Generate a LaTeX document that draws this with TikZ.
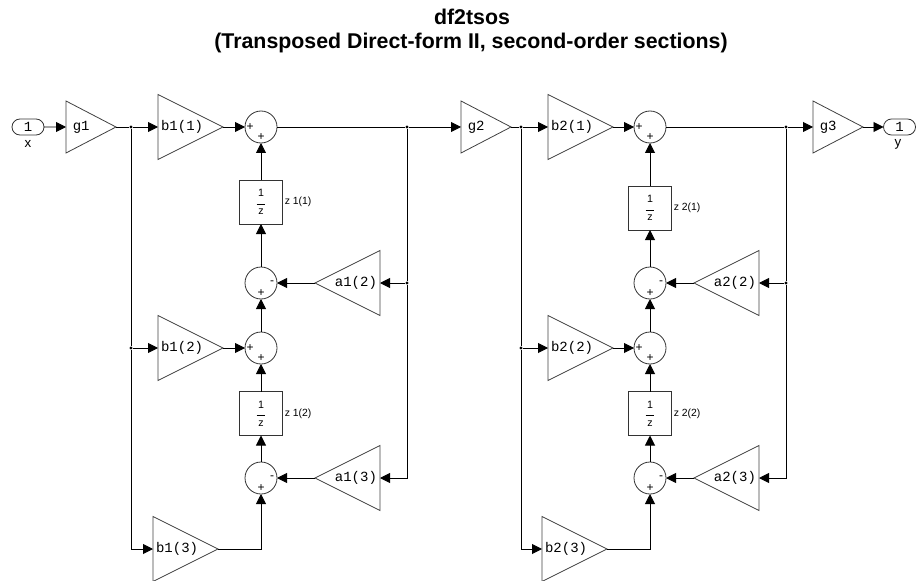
\documentclass[tikz,border=0pt]{standalone}
\usepackage{fontspec}
\setmainfont{Liberation Sans}
\newfontfamily\gainfont{Liberation Mono}
\usetikzlibrary{positioning,arrows.meta,shapes.geometric,shapes.misc}

\begin{document}
\begin{tikzpicture}[x=0.75pt, y=-0.75pt,
  wire/.style={draw=black, line width=0.7pt},
  sig/.style={wire, -{Triangle[length=7.5pt, width=7.5pt]}},
  gain/.style={draw=black!75, line width=0.6pt, isosceles triangle, isosceles triangle stretches,
    inner sep=0, outer sep=0, anchor=lower side, font=\gainfont\fontsize{10.5}{12}\selectfont},
  gsmall/.style={gain, minimum width=39pt, minimum height=37.5pt},
  gbig/.style={gain, minimum width=48.75pt, minimum height=48.75pt},
  back/.style={shape border rotate=180},
  adder/.style={draw=black!80, line width=0.6pt, circle, minimum size=24pt, inner sep=0, outer sep=0},
  sign/.style={font=\fontsize{9}{9}\selectfont, inner sep=0},
  delay/.style={draw=black!80, line width=0.6pt, minimum width=32.25pt, minimum height=33pt, inner sep=0, outer sep=0,
    font=\fontsize{8}{9}\selectfont},
  dlab/.style={font=\fontsize{7.8}{9}\selectfont, inner sep=0, anchor=west},
  port/.style={draw=black!80, line width=0.6pt, rounded rectangle, minimum width=24pt, minimum height=12pt,
    inner sep=0, outer sep=0, font=\gainfont\fontsize{10.5}{12}\selectfont},
  plab/.style={font=\fontsize{10}{11}\selectfont, inner sep=0},
  head/.style={font=\bfseries\fontsize{16}{18}\selectfont},
  dot/.style={circle, fill=black, minimum size=2.6pt, inner sep=0}]
\useasboundingbox (0,0) rectangle (920,581);
\newcommand{\adderblock}[5]{% name, x, y, side offset, side sign
  \node[adder] (#1) at (#2,#3) {};
  \node[sign] (#1p) at ([shift={(0,10.5)}]#1.center) {+};
  \node[sign] (#1s) at ([shift={(#4,0)}]#1.center) {#5};
}
\newcommand{\oneoverz}{$\displaystyle\frac{\hbox to 6.5pt{\hss 1\hss}\rule[-4pt]{0pt}{0pt}}{\rule{0pt}{6pt}\hbox to 6.5pt{\hss z\hss}}$}
\node[head] (title1) at (472,17) {df2tsos};
\node[head] (title2) at (471,43) {(Transposed Direct-form II, second-order sections)};
% ports and the three scale factors
\node[port] (in) at (28,127) {1};
\node[plab] (inlab) at (28,144) {x};
\node[port] (out) at (899.5,127) {1};
\node[plab] (outlab) at (898,144) {y};
\node[gsmall] (g1) at (66,127) {g1};
\node[gsmall] (g2) at (461,127) {g2};
\node[gsmall] (g3) at (813,127) {g3};
\draw[sig] (in) -- (g1.lower side);
\draw[sig] (g3.apex) -- (out);
% one second-order section per line
\foreach \s/\jx/\bx/\bz/\cx/\ax/\ux/\dy/\nxt in {1/131/158/153/261/380/407/202/g2, 2/521/548/542/650/759/786/208/g3} {
  \node[dot] (j\s a) at (\jx,127) {};
  \node[dot] (j\s b) at (\jx,348) {};
  \node[dot] (u\s a) at (\ux,127) {};
  \node[dot] (u\s b) at (\ux,283) {};
  \node[gbig] (b\s a) at (\bx,127) {b\s(1)};
  \node[gbig] (b\s b) at (\bx,348) {b\s(2)};
  \node[gbig] (b\s c) at (\bz,549) {b\s(3)};
  \node[gbig, back] (a\s b) at (\ax,283) {a\s(2)};
  \node[gbig, back] (a\s c) at (\ax,478) {a\s(3)};
  \adderblock{s\s a}{\cx}{127}{-11}{+}
  \adderblock{s\s b}{\cx}{283}{11}{-}
  \adderblock{s\s c}{\cx}{348}{-11}{+}
  \adderblock{s\s d}{\cx}{478}{11}{-}
  \node[delay] (z\s a) at (\cx,\dy) {\oneoverz};
  \node[delay] (z\s b) at (\cx,413.5) {\oneoverz};
  \node[dlab] (z\s alab) at ([xshift=1.5pt]z\s a.east) {z \s(1)};
  \node[dlab] (z\s blab) at ([xshift=1.5pt]z\s b.east) {z \s(2)};
  \draw[wire] (g\s.apex) -- (j\s a);
  \draw[sig] (j\s a) -- (b\s a.lower side);
  \draw[wire] (j\s a) -- (j\s b);
  \draw[sig] (j\s b) -- (b\s b.lower side);
  \draw[sig] (j\s b) |- (b\s c.lower side);
  \draw[sig] (b\s a.apex) -- (s\s a.west);
  \draw[sig] (b\s b.apex) -- (s\s c.west);
  \draw[sig] (b\s c.apex) -| (s\s d.south);
  \draw[sig] (z\s a.north) -- (s\s a.south);
  \draw[sig] (s\s b.north) -- (z\s a.south);
  \draw[sig] (s\s c.north) -- (s\s b.south);
  \draw[sig] (z\s b.north) -- (s\s c.south);
  \draw[sig] (s\s d.north) -- (z\s b.south);
  \draw[sig] (a\s b.apex) -- (s\s b.east);
  \draw[sig] (a\s c.apex) -- (s\s d.east);
  \draw[wire] (s\s a.east) -- (u\s a);
  \draw[sig] (u\s a) -- (\nxt.lower side);
  \draw[wire] (u\s a) -- (u\s b);
  \draw[sig] (u\s b) -- (a\s b.lower side);
  \draw[sig] (u\s b) |- (a\s c.lower side);
}
\end{tikzpicture}
\end{document}
